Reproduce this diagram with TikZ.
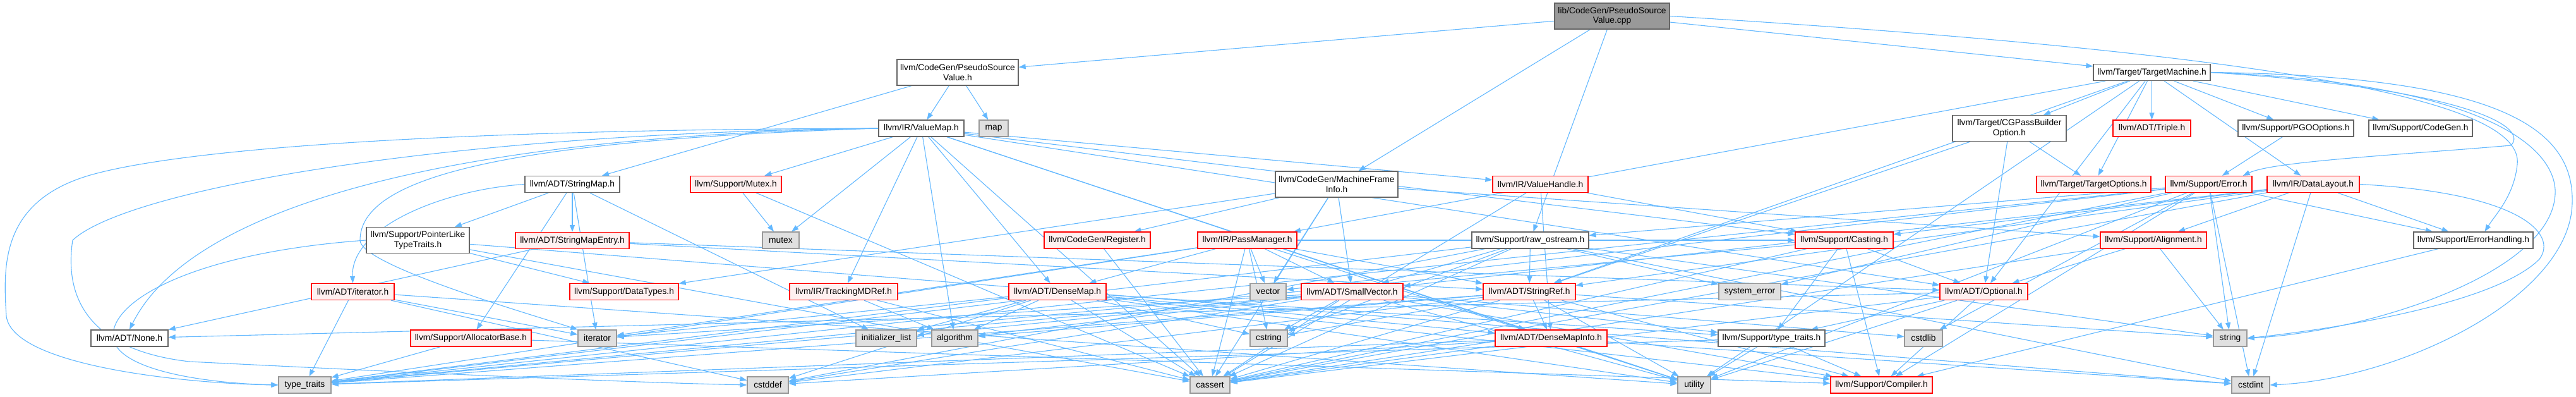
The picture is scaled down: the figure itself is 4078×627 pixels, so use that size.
\documentclass[tikz,border=0pt]{standalone}
\usepackage{fontspec}
\setmainfont{Liberation Sans}
\usetikzlibrary{arrows.meta}
\definecolor{edgec}{HTML}{63B8FF}
\definecolor{nodegray}{HTML}{666666}
\definecolor{redfill}{HTML}{FFF0F0}
\definecolor{sysfill}{HTML}{E0E0E0}
\definecolor{sysborder}{HTML}{999999}
\definecolor{rootfill}{HTML}{999999}
\pgfdeclarelayer{background}
\pgfsetlayers{background,main}
\begin{document}
\begin{tikzpicture}[x=1pt,y=-1pt,
 box/.style={draw=nodegray, fill=white, line width=1.3pt, inner sep=0pt, minimum height=26pt, font=\fontsize{13.8}{15.5}\selectfont, align=center},
 redbox/.style={box, draw=red, fill=redfill},
 sysbox/.style={box, draw=sysborder, fill=sysfill},
 rootbox/.style={box, fill=rootfill, draw=nodegray},
 two/.style={minimum height=41pt},
 e/.style={draw=edgec, line width=1.1pt, -{Triangle[length=11pt,width=8pt]}}
]
\useasboundingbox (0,0) rectangle (4078,627);
% row 0
\node[rootbox,two,minimum width=182pt] (root) at (2552,25.5) {lib/CodeGen/PseudoSource\\Value.cpp};
% row 1
\node[box,two,minimum width=192pt] (psvh) at (1516,114.5) {llvm/CodeGen/PseudoSource\\Value.h};
\node[box,minimum width=185pt] (tm) at (3406.5,114.5) {llvm/Target/TargetMachine.h};
% row 2
\node[box,minimum width=135pt] (vmap) at (1458.5,203) {llvm/IR/ValueMap.h};
\node[sysbox,minimum width=46pt] (map) at (1573,203) {map};
\node[box,two,minimum width=180pt] (cgpb) at (3181,203) {llvm/Target/CGPassBuilder\\Option.h};
\node[redbox,minimum width=123pt] (triple) at (3406.5,203) {llvm/ADT/Triple.h};
\node[box,minimum width=183pt] (pgo) at (3634.5,203) {llvm/Support/PGOOptions.h};
\node[box,minimum width=164pt] (codegen) at (3832,203) {llvm/Support/CodeGen.h};
% row 3
\node[box,minimum width=150pt] (smap) at (906,291.5) {llvm/ADT/StringMap.h};
\node[redbox,minimum width=144pt] (mutexh) at (1165,291.5) {llvm/Support/Mutex.h};
\node[box,two,minimum width=194pt] (mfi) at (2116,291.5) {llvm/CodeGen/MachineFrame\\Info.h};
\node[redbox,minimum width=151pt] (vhandle) at (2438.5,291.5) {llvm/IR/ValueHandle.h};
\node[redbox,minimum width=181pt] (topts) at (3314.5,291.5) {llvm/Target/TargetOptions.h};
\node[redbox,minimum width=137pt] (error) at (3496.5,291.5) {llvm/Support/Error.h};
\node[redbox,minimum width=146pt] (dlayout) at (3662,291.5) {llvm/IR/DataLayout.h};
% row 4
\node[box,two,minimum width=163pt] (plt) at (661.5,380) {llvm/Support/PointerLike\\TypeTraits.h};
\node[redbox,minimum width=180pt] (smentry) at (906,380.5) {llvm/ADT/StringMapEntry.h};
\node[sysbox,minimum width=58pt] (mutex) at (1236,380) {mutex};
\node[redbox,minimum width=168pt] (reg) at (1737,380) {llvm/CodeGen/Register.h};
\node[redbox,minimum width=157pt] (pm) at (1974.5,380) {llvm/IR/PassManager.h};
\node[box,minimum width=185pt] (ros) at (2422.5,380) {llvm/Support/raw\_ostream.h};
\node[redbox,minimum width=155pt] (casting) at (2919.5,380) {llvm/Support/Casting.h};
\node[redbox,minimum width=168pt] (align) at (3409,380) {llvm/Support/Alignment.h};
\node[box,minimum width=189pt] (eh) at (3915.5,380) {llvm/Support/ErrorHandling.h};
% row 5
\node[redbox,minimum width=131pt] (iterh) at (558.5,461.5) {llvm/ADT/iterator.h};
\node[redbox,minimum width=172pt] (dtypes) at (988,461.5) {llvm/Support/DataTypes.h};
\node[redbox,minimum width=171pt] (tmdref) at (1335.5,461.5) {llvm/IR/TrackingMDRef.h};
\node[redbox,minimum width=154pt] (dmap) at (1674,461.5) {llvm/ADT/DenseMap.h};
\node[sysbox,minimum width=57pt] (vector) at (2007.5,461.5) {vector};
\node[redbox,minimum width=161pt] (svec) at (2140.5,461.5) {llvm/ADT/SmallVector.h};
\node[redbox,minimum width=146pt] (sref) at (2421,461.5) {llvm/ADT/StringRef.h};
\node[sysbox,minimum width=98pt] (syserr) at (2770,461.5) {system\_error};
\node[redbox,minimum width=139pt] (optional) at (3140.5,461.5) {llvm/ADT/Optional.h};
% row 6
\node[box,minimum width=122pt] (none) at (205,535) {llvm/ADT/None.h};
\node[redbox,minimum width=191pt] (alloc) at (745.5,535) {llvm/Support/AllocatorBase.h};
\node[sysbox,minimum width=61pt] (iterator) at (945.5,535) {iterator};
\node[sysbox,minimum width=96pt] (initl) at (1403,535) {initializer\_list};
\node[sysbox,minimum width=73pt] (algo) at (1511.5,535) {algorithm};
\node[sysbox,minimum width=59pt] (cstring) at (2008.5,535) {cstring};
\node[redbox,minimum width=177pt] (dmi) at (2455.5,535) {llvm/ADT/DenseMapInfo.h};
\node[box,minimum width=169pt] (stt) at (2804.5,535) {llvm/Support/type\_traits.h};
\node[sysbox,minimum width=60pt] (cstdlib) at (3045,535) {cstdlib};
\node[sysbox,minimum width=53pt] (string) at (3530.5,535) {string};
% row 7
\node[sysbox,minimum width=83pt] (tt) at (482.5,609) {type\_traits};
\node[sysbox,minimum width=65pt] (cstddef) at (1215.5,609) {cstddef};
\node[sysbox,minimum width=63pt] (cassert) at (1915.5,609) {cassert};
\node[sysbox,minimum width=52pt] (utility) at (2682,609) {utility};
\node[redbox,minimum width=161pt] (compiler) at (2978.5,609) {llvm/Support/Compiler.h};
\node[sysbox,minimum width=60pt] (cstdint) at (3563,609) {cstdint};

\begin{pgfonlayer}{background}
\foreach \s/\t in {root/psvh, root/mfi, root/ros, root/tm,
psvh/smap, psvh/vmap, psvh/map,
vmap/dmap, vmap/dmi, vmap/optional, vmap/tmdref, vmap/vhandle, vmap/casting, vmap/mutexh, vmap/algo, vmap/cassert, vmap/mutex, vmap/utility,
smap/smentry, smap/alloc, smap/plt, smap/initl, smap/iterator,
smentry/none, smentry/sref, smentry/optional,
plt/dtypes, plt/cassert, plt/cstdint,
iterh/cstddef, iterh/iterator, iterh/tt, iterh/utility,
alloc/compiler, alloc/tt,
mutexh/mutex, mutexh/cassert,
tmdref/algo, tmdref/cassert,
dmap/dmi, dmap/compiler, dmap/stt, dmap/algo, dmap/cassert, dmap/cstddef, dmap/cstring, dmap/initl, dmap/iterator, dmap/tt, dmap/utility,
reg/cassert,
pm/dmap, pm/svec, pm/sref, pm/casting, pm/cassert, pm/cstring, pm/iterator, pm/tt, pm/utility, pm/vector,
mfi/svec, mfi/reg, mfi/align, mfi/dtypes, mfi/cassert, mfi/vector,
vhandle/dmi, vhandle/casting, vhandle/cassert,
ros/svec, ros/sref, ros/cassert, ros/cstddef, ros/cstdint, ros/cstring, ros/string, ros/syserr, ros/tt,
casting/optional, casting/compiler, casting/stt, casting/cassert, casting/tt,
svec/compiler, svec/stt, svec/algo, svec/cassert, svec/cstddef, svec/cstdlib, svec/cstring, svec/initl, svec/iterator, svec/tt, svec/utility,
sref/dmi, sref/compiler, sref/algo, sref/cassert, sref/cstddef, sref/cstring, sref/string, sref/tt, sref/utility,
dmi/cassert, dmi/cstddef, dmi/cstdint, dmi/tt, dmi/utility,
stt/compiler, stt/tt, stt/utility,
optional/none, optional/compiler, optional/stt, optional/cassert, optional/utility,
tm/optional, tm/sref, tm/triple, tm/dlayout, tm/pm, tm/codegen, tm/pgo, tm/cgpb, tm/topts, tm/utility,
cgpb/optional, cgpb/sref, cgpb/topts,
pgo/error,
error/compiler, error/eh, error/ros, error/cassert, error/cstdint, error/cstdlib, error/string, error/syserr, error/tt, error/utility, error/vector,
dlayout/svec, dlayout/sref, dlayout/align, dlayout/casting, dlayout/eh, dlayout/cassert, dlayout/cstdint,
align/optional, align/cassert, align/string,
eh/compiler}
  \draw[e] (\s) -- (\t);
% curved edges on the left
\draw[e] (vmap.west) .. controls (700,205) and (300,235) .. (150,275) .. controls (0,315) and (5,420) .. (10,500) .. controls (20,580) and (300,607) .. (tt.west);
\draw[e] (vmap.west) .. controls (700,210) and (200,300) .. (115,380) .. controls (100,480) and (150,555) .. (300,572) .. controls (700,592) and (1000,605) .. (cstddef.west);
\draw[e] (vmap.west) .. controls (700,215) and (300,330) .. (none.north);
\draw[e] (vmap.west) .. controls (800,222) and (570,280) .. (570,380) .. controls (570,420) and (850,500) .. (iterator.north west);
\draw[e] (smap.west) .. controls (700,300) and (555,360) .. (iterh.north);
\draw[e] (plt.west) .. controls (300,400) and (165,480) .. (180,540) .. controls (200,592) and (350,607) .. (tt.west);
% curved edges on the right
\draw[e] (root.east) .. controls (3700,90) and (3995,170) .. (3985,260) .. controls (3980,310) and (3950,340) .. ([xshift=18pt]eh.north);
\draw[e] (tm.east) .. controls (3900,140) and (4005,200) .. (3975,230) .. controls (3800,245) and (3600,255) .. ([xshift=-15pt]error.north east);
\draw[e] (tm.east) .. controls (3950,120) and (4075,200) .. (4072,320) .. controls (4070,470) and (3800,600) .. (cstdint.east);
\draw[e] (tm.east) .. controls (3900,130) and (4040,220) .. (4045,300) .. controls (4050,430) and (3750,525) .. (string.east);
\draw[e] (dlayout.east) .. controls (3990,305) and (4050,370) .. (4020,410) .. controls (3950,480) and (3700,520) .. (string.east);
\end{pgfonlayer}
\end{tikzpicture}
\end{document}
